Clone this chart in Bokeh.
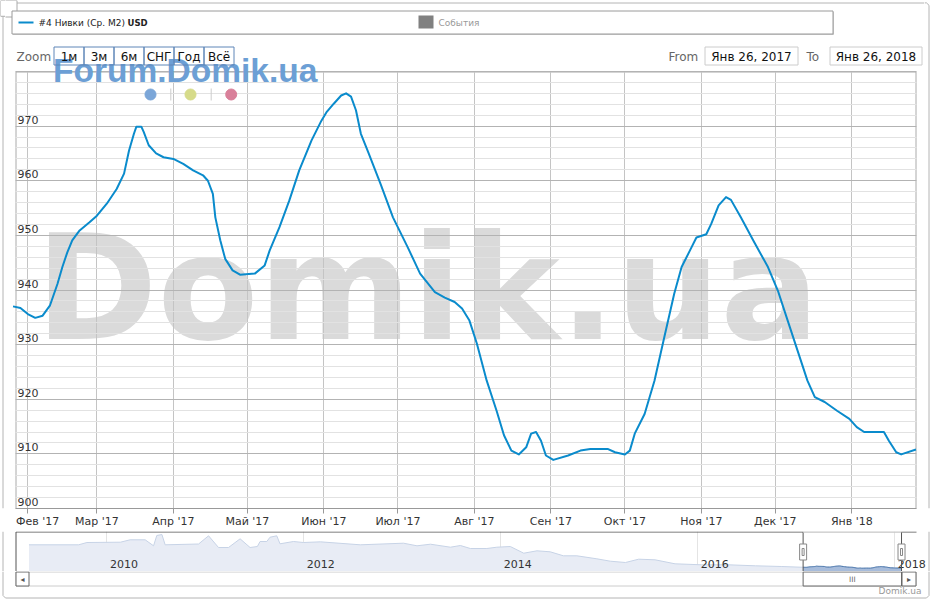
import pandas as pd
from bokeh.plotting import figure
from bokeh.layouts import column, row
from bokeh.models import Range1d, FixedTicker, SingleIntervalTicker, Grid
from bokeh.core.properties import value
from bokeh.embed import file_html
from bokeh.resources import INLINE

# ---------------- data ----------------
main_dates = [
    "2017-01-26", "2017-01-29", "2017-02-01", "2017-02-04", "2017-02-07", "2017-02-10",
    "2017-02-13", "2017-02-15", "2017-02-17", "2017-02-19", "2017-02-22", "2017-02-26",
    "2017-03-01", "2017-03-05", "2017-03-09", "2017-03-12", "2017-03-14", "2017-03-16",
    "2017-03-17", "2017-03-19", "2017-03-20", "2017-03-22", "2017-03-25", "2017-03-28",
    "2017-04-01", "2017-04-05", "2017-04-09", "2017-04-13", "2017-04-15", "2017-04-17",
    "2017-04-18", "2017-04-20", "2017-04-22", "2017-04-25", "2017-04-28", "2017-05-04",
    "2017-05-08", "2017-05-10", "2017-05-14", "2017-05-18", "2017-05-22", "2017-05-27",
    "2017-05-31", "2017-06-02", "2017-06-05", "2017-06-08", "2017-06-10", "2017-06-12",
    "2017-06-14", "2017-06-16", "2017-06-19", "2017-06-24", "2017-06-29", "2017-07-05",
    "2017-07-10", "2017-07-16", "2017-07-20", "2017-07-24", "2017-07-27", "2017-07-30",
    "2017-08-02", "2017-08-06", "2017-08-10", "2017-08-13", "2017-08-16", "2017-08-19",
    "2017-08-22", "2017-08-24", "2017-08-26", "2017-08-28", "2017-08-30", "2017-09-02",
    "2017-09-08", "2017-09-13", "2017-09-17", "2017-09-24", "2017-09-27", "2017-10-01",
    "2017-10-03", "2017-10-05", "2017-10-09", "2017-10-13", "2017-10-17", "2017-10-21",
    "2017-10-24", "2017-10-28", "2017-10-30", "2017-11-03", "2017-11-05", "2017-11-08",
    "2017-11-11", "2017-11-13", "2017-11-17", "2017-11-22", "2017-11-28", "2017-12-02",
    "2017-12-06", "2017-12-10", "2017-12-14", "2017-12-17", "2017-12-21", "2017-12-26",
    "2017-12-31", "2018-01-03", "2018-01-06", "2018-01-14", "2018-01-16", "2018-01-19",
    "2018-01-21", "2018-01-27",
]
main_values = [
    937.0, 936.7, 935.6, 934.9, 935.3, 937.2,
    941.1, 944.2, 946.9, 949.1, 950.9, 952.4,
    953.6, 955.8, 958.5, 961.3, 965.5, 968.6,
    969.9, 969.9, 968.9, 966.5, 965.0, 964.3,
    964.0, 963.1, 961.9, 961.0, 960.0, 957.6,
    953.3, 949.1, 945.7, 943.6, 942.8, 943.0,
    944.5, 947.2, 951.5, 956.4, 961.9, 967.4,
    971.0, 972.5, 974.1, 975.6, 976.0, 975.4,
    972.9, 968.6, 965.2, 959.4, 953.3, 947.8,
    943.0, 939.6, 938.6, 937.8, 936.6, 934.4,
    930.2, 923.4, 917.9, 913.4, 910.6, 909.9,
    911.2, 913.7, 914.0, 912.4, 909.7, 908.9,
    909.7, 910.6, 910.9, 910.9, 910.3, 909.9,
    910.6, 913.7, 917.3, 923.4, 931.4, 939.3,
    944.2, 947.8, 949.6, 950.2, 952.1, 955.5,
    957.0, 956.5, 953.3, 949.1, 944.2, 939.9,
    934.4, 928.9, 923.4, 920.4, 919.5, 917.9,
    916.4, 914.9, 914.0, 914.0, 912.4, 910.3,
    909.9, 910.8,
]

# navigator history (before the selected year)
hist_dates = [
    "2009-03-18", "2009-09-18", "2009-10-19", "2010-02-20", "2010-03-28", "2010-05-23",
    "2010-06-23", "2010-07-05", "2010-07-24", "2010-08-05", "2010-12-07", "2011-01-13",
    "2011-02-19", "2011-03-28", "2011-05-10", "2011-06-16", "2011-07-13", "2011-07-23",
    "2011-08-17", "2011-08-29", "2011-09-23", "2011-10-05", "2011-11-24", "2011-12-31",
    "2012-03-03", "2012-07-29", "2013-01-05", "2013-02-24", "2013-04-15", "2013-06-28",
    "2013-08-04", "2013-09-10", "2013-11-10", "2013-12-17", "2014-02-05", "2014-03-27",
    "2014-05-15", "2014-07-03", "2014-08-21", "2014-10-10", "2014-12-23", "2015-02-11",
    "2015-04-08", "2015-05-27", "2015-07-27", "2015-10-09", "2016-01-16", "2016-04-25",
    "2016-08-02", "2016-11-08",
]
hist_values = [
    1611, 1611, 1680, 1689, 1761, 1761,
    1581, 1890, 1920, 1611, 1635, 1881,
    1530, 1530, 1791, 1530, 1560, 1710,
    1710, 1839, 1881, 1641, 1710, 1680,
    1700, 1611, 1659, 1581, 1629, 1539,
    1590, 1500, 1500, 1539, 1560, 1359,
    1431, 1401, 1281, 1281, 1191, 1119,
    1080, 1179, 1161, 1041, 1011, 1011,
    981, 960,
]

month_ticks = ["2017-02-01", "2017-03-01", "2017-04-01", "2017-05-01", "2017-06-01", "2017-07-01",
               "2017-08-01", "2017-09-01", "2017-10-01", "2017-11-01", "2017-12-01", "2018-01-01"]
month_labels = ["Фев '17", "Мар '17", "Апр '17", "Май '17", "Июн '17", "Июл '17",
                "Авг '17", "Сен '17", "Окт '17", "Ноя '17", "Дек '17", "Янв '18"]
y_ticks = [900, 910, 920, 930, 940, 950, 960, 970]
y_labels = ["900", "910", "920", "930", "940", "950", "960", "970"]
year_ticks = ["2010-01-01", "2012-01-01", "2014-01-01", "2016-01-01", "2018-01-01"]
year_labels = ["2010", "2012", "2014", "2016", "2018"]
zoom_buttons = ["1м", "3м", "6м", "СНГ", "Год", "Всё"]
series_name = "#4 Нивки (Ср. М2)"
series_unit = "USD"
events_name = "События"
range_from = "Янв 26, 2017"
range_to = "Янв 26, 2018"
sel_start = "2017-01-26"
sel_end = "2018-01-26"

# ---------------- layout constants (pixels) ----------------
BLUE = "#0a8bcc"
BORDER = "#b4b4b4"
F = value("DejaVu Sans")
FB = value("Liberation Sans")
HAS_CROSS = "cross_bounds" in Grid.properties()
NBSP = "\u00a0"

main_x = pd.to_datetime(main_dates)
nav_x = pd.to_datetime(hist_dates + main_dates)
nav_v = hist_values + main_values
ss, se = pd.Timestamp(sel_start), pd.Timestamp(sel_end)


def ms(d):
    return float(pd.Timestamp(d).value // 10**6)


def panel(width, height, x_range, y_range, **kw):
    f = figure(width=width, height=height, x_range=x_range, y_range=y_range,
               x_axis_location=None, y_axis_location=None, toolbar_location=None,
               output_backend="svg", min_border=0, outline_line_color=None, title=None, **kw)
    f.grid.visible = False
    return f


# ---------------- main chart (frame covers header too) ----------------
# plot area: x 15..916, y 71..508 ; fb canvas spans x 5..924, y 0..531
p_start = pd.Timestamp("2017-01-27 00:00")
p_end = pd.Timestamp("2018-01-27 05:00")
day_px = 901 / ((p_end - p_start) / pd.Timedelta(days=1))
x_lo = p_start - pd.Timedelta(days=10 / day_px)
x_hi = p_end + pd.Timedelta(days=8 / day_px)
y_top = 980 + 71 / (437 / 80)

fb = figure(width=919, height=531, x_axis_type="datetime",
            x_range=Range1d(x_lo, x_hi), y_range=Range1d(900, y_top),
            y_axis_location=None, toolbar_location=None, output_backend="svg",
            min_border_left=0, min_border_right=0, min_border_top=0, min_border_bottom=23,
            outline_line_color=None, title=None)
fb.extra_x_ranges = {"px": Range1d(5, 924)}
fb.extra_y_ranges = {"px": Range1d(508, 0)}
PX = dict(x_range_name="px", y_range_name="px")

tick_text = list(month_labels)
tick_text[0] = NBSP * 3 + tick_text[0]   # first label is pushed right, inside the chart
fb.xaxis.ticker = FixedTicker(ticks=[ms(t) for t in month_ticks])
fb.xaxis.major_label_overrides = {ms(t): lab for t, lab in zip(month_ticks, tick_text)}
fb.xaxis.bounds = (ms(p_start), ms(p_end))
fb.xaxis.axis_line_color = "#999999"
fb.xaxis.major_tick_line_color = "#999999"
fb.xaxis.major_tick_out = 5
fb.xaxis.major_tick_in = 0
fb.xaxis.minor_tick_out = 0
fb.xaxis.major_label_standoff = 1
fb.xaxis.major_label_text_font = "DejaVu Sans"
fb.xaxis.major_label_text_font_size = "11px"
fb.xaxis.major_label_text_color = "#333333"
fb.xgrid.grid_line_color = "#c4c4c4"
fb.ygrid.ticker = SingleIntervalTicker(interval=10, num_minor_ticks=5)
fb.ygrid.bounds = (900, 980)
fb.ygrid.grid_line_color = "#b3b3b3"
fb.ygrid.minor_grid_line_color = "#e2e2e2"
if HAS_CROSS:
    fb.xgrid.cross_bounds = (900, 980)
    fb.ygrid.cross_bounds = (ms(p_start), ms(p_end))

# outer border pieces, collapse button
fb.segment(x0=[16], y0=[2.5], x1=[924], y1=[2.5], line_color=BORDER, **PX)
fb.quad(left=[0], right=[16.5], top=[0], bottom=[16.5], fill_color="white",
        line_color="#aaaaaa", **PX)

# legend box
fb.quad(left=[12.5], right=[833.5], top=[11.5], bottom=[34.5], fill_color="#cfcfcf",
        line_color=None, **PX)
fb.quad(left=[11.5], right=[832.5], top=[10.5], bottom=[33.5], fill_color="white",
        line_color="#9a9a9a", **PX)
fb.line([18, 33], [22, 22], line_color=BLUE, line_width=2, **PX)
fb.text([38], [22.5], text=[series_name], text_font=F, text_font_size="9px",
        text_color="#222222", text_baseline="middle", **PX)
fb.text([127], [22.5], text=[series_unit], text_font=F, text_font_size="8.5px",
        text_font_style="bold", text_color="#222222", text_baseline="middle", **PX)
fb.quad(left=[418], right=[433], top=[15], bottom=[28], fill_color="#808080",
        line_color=None, **PX)
fb.text([438], [22.5], text=[events_name], text_font=F, text_font_size="9px",
        text_color="#999999", text_baseline="middle", **PX)

# big watermark (under the grid)
fb.text([35], [287.5], text=["Domik.ua"], text_font=F, text_font_size="147px",
        text_font_style="bold", text_color="#dadada", text_baseline="middle",
        level="image", **PX)

# plot border
fb.quad(left=[15.5], right=[915.5], top=[71.5], bottom=[508.5], fill_color=None,
        line_color="#aaaaaa", level="underlay", **PX)

# forum watermark + dots
fb.text([52.6], [70.4], text=["Forum.Domik.ua"], text_font=FB, text_font_size="33.5px",
        text_font_style="bold", text_color="#6c9fd5", text_baseline="middle", **PX)
fb.scatter([150, 190, 230.7], [94, 94, 94], size=11,
           color=["#7ba6d8", "#d6db8a", "#d9809a"], **PX)
fb.segment(x0=[170.3, 210.7], y0=[88, 88], x1=[170.3, 210.7], y1=[100, 100],
           line_color="#cccccc", **PX)

# range selector row
fb.text([16], [56], text=["Zoom"], text_font=F, text_font_size="12px",
        text_color="#666666", text_baseline="middle", **PX)
bl = [53.5 + 30 * i for i in range(len(zoom_buttons))]
fb.quad(left=bl, right=[b + 30 for b in bl], top=[46.5] * len(bl), bottom=[64.5] * len(bl),
        fill_color=None, line_color="#5f86b8", **PX)
fb.text([b + 15 for b in bl], [56] * len(bl), text=zoom_buttons, text_font=F,
        text_font_size="12px", text_color="#111111", text_align="center",
        text_baseline="middle", **PX)
fb.text([668], [56], text=["From"], text_font=F, text_font_size="12px",
        text_color="#666666", text_baseline="middle", **PX)
fb.text([806], [56], text=["To"], text_font=F, text_font_size="12px",
        text_color="#666666", text_baseline="middle", **PX)
fb.quad(left=[704.5, 829.5], right=[797.5, 921.5], top=[46.5, 46.5], bottom=[64.5, 64.5],
        fill_color="white", line_color="#cccccc", **PX)
fb.text([751, 875.5], [56, 56], text=[range_from, range_to], text_font=F,
        text_font_size="12px", text_color="#111111", text_align="center",
        text_baseline="middle", **PX)

# y labels inside the plot
fb.text([17] * len(y_ticks), y_ticks, text=y_labels, text_font=F, text_font_size="11px",
        text_color="#333333", text_baseline="middle", y_offset=-6.5, x_range_name="px")

# series
fb.line(main_x, main_values, line_color=BLUE, line_width=2, line_join="round")

# side strips carrying the outer border
sl = panel(5, 531, Range1d(0, 5), Range1d(531, 0))
sl.quad(left=[0], right=[16.5], top=[0], bottom=[16.5], fill_color="white", line_color="#aaaaaa")
sl.segment(x0=[2.5], y0=[16.5], x1=[2.5], y1=[531], line_color=BORDER)
sr = panel(7, 531, Range1d(924, 931), Range1d(531, 0))
sr.line([924, 926, 928.5, 928.5], [2.5, 2.5, 5, 531], line_color=BORDER)

# ---------------- navigator (y 531..571) ----------------
NPX = 0.26964  # px per day
n_anchor = pd.Timestamp("2010-01-01")
nx0 = n_anchor - pd.Timedelta(days=106.4 / NPX)
nx1 = n_anchor + pd.Timedelta(days=(931 - 106.4) / NPX)
fc = panel(931, 40, Range1d(nx0, nx1), Range1d(810, 2010))
fc.extra_x_ranges = {"px": Range1d(0, 931)}
fc.extra_y_ranges = {"px": Range1d(571, 531)}
fc.add_layout(Grid(dimension=0, ticker=FixedTicker(ticks=[ms(t) for t in year_ticks]),
                   grid_line_color="#e4e4e4"))
fc.varea(x=nav_x, y1=810, y2=nav_v, fill_color="#e8ecf5")
fc.line(nav_x, nav_v, line_color="#c7d3e6", line_width=1)
fc.varea(x=main_x, y1=810, y2=main_values, fill_color="#a7bcdb")
fc.line(main_x, main_values, line_color="#4a76ab", line_width=1)
fc.text(pd.to_datetime(year_ticks), [563] * len(year_ticks), text=year_labels, text_font=F,
        text_font_size="11px", text_color="#333333", text_baseline="middle",
        x_offset=3, y_range_name="px")
fc.segment(x0=[15.5, 15.5], y0=[531.5, 531.5], x1=[15.5, 916], y1=[571, 531.5],
           line_color="#555555", **PX)
fc.segment(x0=[ss, se], y0=[531.5, 531.5], x1=[ss, se], y1=[571, 571],
           line_color="#555555", y_range_name="px")
fc.quad(left=[ss], right=[se], top=[530.8], bottom=[531.9], fill_color="white",
        line_color=None, y_range_name="px")
fc.rect(x=[ss, se], y=[551.5, 551.5], width=7, height=16, width_units="screen",
        height_units="screen", fill_color="white", line_color="#888888", y_range_name="px")
fc.rect(x=[ss, se], y=[551.5, 551.5], width=2, height=7, width_units="screen",
        height_units="screen", fill_color=None, line_color="#888888", y_range_name="px")
fc.segment(x0=[2.5, 928.5], y0=[531, 531], x1=[2.5, 928.5], y1=[571, 571],
           line_color=BORDER, **PX)

# ---------------- scrollbar & credit (y 571..600) ----------------
fd = panel(931, 29, fc.x_range, Range1d(600, 571))
fd.extra_x_ranges = {"px": Range1d(0, 931)}
fd.quad(left=[15.5], right=[915.5], top=[571.5], bottom=[585.5], fill_color="white",
        line_color="#cccccc", x_range_name="px")
fd.quad(left=[ss], right=[se], top=[571.5], bottom=[585.5], fill_color="white",
        line_color="#666666")
fd.quad(left=[15.5, 901.5], right=[28.5, 915.5], top=[571.5, 571.5], bottom=[585.5, 585.5],
        fill_color="white", line_color="#666666", x_range_name="px")
fd.text([22, 908.5], [578.5, 578.5], text=["◂", "▸"], text_font=F, text_font_size="8px",
        text_color="#555555", text_align="center", text_baseline="middle", x_range_name="px")
fd.text([ss + (se - ss) / 2], [579], text=["III"], text_font=F, text_font_size="7.5px",
        text_color="#666666", text_align="center", text_baseline="middle")
fd.text([921], [590.5], text=["Domik.ua"], text_font=F, text_font_size="9px",
        text_color="#999999", text_align="right", text_baseline="middle",
        x_range_name="px")
fd.line([2.5, 2.5, 5, 926, 928.5, 928.5], [571, 595, 597.5, 597.5, 595, 571],
        line_color=BORDER, x_range_name="px")

layout = column(row(sl, fb, sr, spacing=0), fc, fd, spacing=0)
open("out.html", "w").write(file_html(layout, INLINE))
